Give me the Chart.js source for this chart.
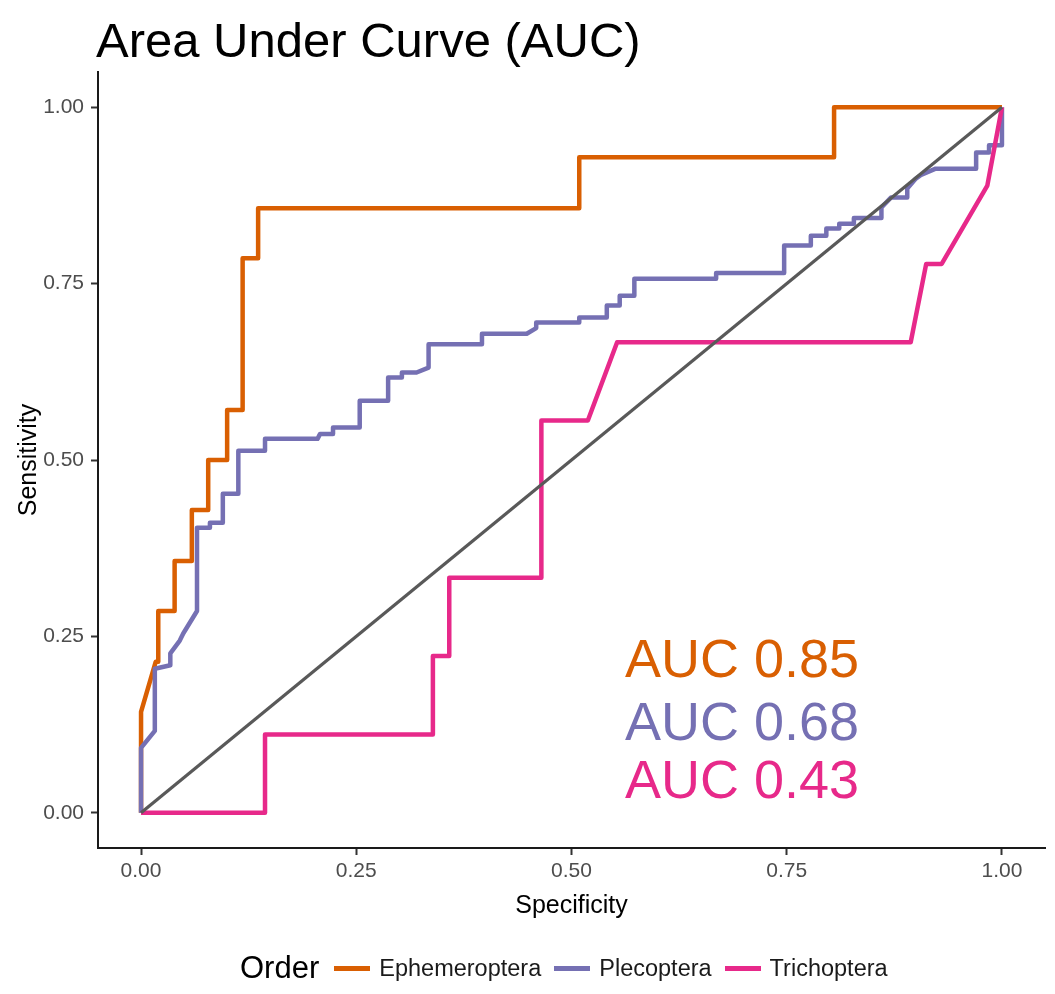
<!DOCTYPE html>
<html>
<head>
<meta charset="utf-8">
<script src="https://cdn.jsdelivr.net/npm/chart.js@4.4.1/dist/chart.umd.min.js"></script>
<style>
  body { margin: 0; background: #fff; }
  #wrap { position: relative; width: 1055px; height: 994px; font-family: "Liberation Sans", Arial, sans-serif; }
  #rocChart { position: absolute; left: 0; top: 0; }
  #title { position: absolute; left: 96px; top: 16px; font-size: 49px; line-height: 48px; color: #000; white-space: nowrap; }
  #legend { position: absolute; left: 240px; top: 948px; height: 40px; display: flex; align-items: center; white-space: nowrap; }
  #legend .lab { font-size: 31px; color: #000; margin-right: 15px; }
  #legend .key { width: 36px; height: 5px; margin-right: 9px; }
  #legend .txt { font-size: 23.5px; color: #1a1a1a; margin-right: 13px; }
</style>
</head>
<body>
<div id="wrap">
  <canvas id="rocChart" width="1055" height="994"></canvas>
  <div id="title">Area Under Curve (AUC)</div>
  <div id="legend"></div>
</div>
<script>
/* ---------------------------------------------------
    ROC curves per Order  [specificity, sensitivity]
---------------------------------------------------*/
const ephemeroptera = [
    [0, 0], [0, 0.143], [0.017, 0.214], [0.020, 0.214], [0.020, 0.286], [0.039, 0.286],
    [0.039, 0.357], [0.059, 0.357], [0.059, 0.429], [0.078, 0.429], [0.078, 0.500],
    [0.100, 0.500], [0.100, 0.571], [0.118, 0.571], [0.118, 0.786], [0.136, 0.786],
    [0.136, 0.857], [0.509, 0.857], [0.509, 0.929], [0.805, 0.929], [0.805, 1.0], [1.0, 1.0]
];

const plecoptera = [
    [0, 0], [0, 0.092], [0.016, 0.116], [0.016, 0.204], [0.034, 0.209], [0.034, 0.226],
    [0.045, 0.244], [0.049, 0.254], [0.065, 0.286], [0.065, 0.404], [0.080, 0.404],
    [0.080, 0.411], [0.095, 0.411], [0.095, 0.452], [0.113, 0.452], [0.113, 0.513],
    [0.144, 0.513], [0.144, 0.530], [0.205, 0.530], [0.208, 0.537], [0.223, 0.537],
    [0.223, 0.546], [0.254, 0.546], [0.254, 0.584], [0.287, 0.584], [0.287, 0.617],
    [0.303, 0.617], [0.303, 0.624], [0.320, 0.624], [0.334, 0.631], [0.334, 0.664],
    [0.396, 0.664], [0.396, 0.679], [0.448, 0.679], [0.459, 0.687], [0.459, 0.695],
    [0.509, 0.695], [0.509, 0.702], [0.541, 0.702], [0.541, 0.719], [0.556, 0.719],
    [0.556, 0.733], [0.573, 0.733], [0.573, 0.757], [0.668, 0.757], [0.668, 0.765],
    [0.747, 0.765], [0.747, 0.804], [0.778, 0.804], [0.778, 0.818], [0.796, 0.818],
    [0.796, 0.828], [0.811, 0.828], [0.811, 0.835], [0.828, 0.835], [0.828, 0.843],
    [0.860, 0.843], [0.860, 0.858], [0.871, 0.872], [0.890, 0.872], [0.890, 0.885],
    [0.900, 0.899], [0.906, 0.904], [0.923, 0.913], [0.970, 0.913], [0.970, 0.936],
    [0.985, 0.936], [0.985, 0.946], [1.0, 0.946], [1.0, 1.0]
];

const trichoptera = [
    [0, 0], [0.144, 0], [0.144, 0.111], [0.339, 0.111], [0.339, 0.222], [0.358, 0.222],
    [0.358, 0.333], [0.465, 0.333], [0.465, 0.556], [0.519, 0.556], [0.553, 0.667],
    [0.894, 0.667], [0.912, 0.778], [0.930, 0.778], [0.983, 0.889], [1.0, 1.0]
];

const chanceLine = [[0, 0], [1, 1]];

const orderNames = ["Ephemeroptera", "Plecoptera", "Trichoptera"];
const orderColors = ["#D95F02", "#7570B3", "#E7298A"];
const aucLabels = ["AUC 0.85", "AUC 0.68", "AUC 0.43"];
const axisTicks = [0, 0.25, 0.5, 0.75, 1];

const toPoints = arr => arr.map(p => ({ x: p[0], y: p[1] }));

/* ---------------------------------------------------
    Plugin: AUC text annotations (data coords)
---------------------------------------------------*/
const aucText = {
    id: 'aucText',
    afterDatasetsDraw(chart, args, opts) {
        const { ctx, scales } = chart;
        ctx.save();
        ctx.font = opts.size + 'px "Liberation Sans", Arial, sans-serif';
        ctx.textAlign = 'left';
        ctx.textBaseline = 'alphabetic';
        aucLabels.forEach((txt, i) => {
            ctx.fillStyle = orderColors[i];
            ctx.fillText(txt, scales.x.getPixelForValue(opts.x), scales.y.getPixelForValue(opts.y[i]));
        });
        ctx.restore();
    }
};

function axisOpts(titleText, isX) {
    return {
        type: 'linear',
        min: -0.05,
        max: 1.05,
        afterBuildTicks: s => { s.ticks = axisTicks.map(v => ({ value: v })); },
        afterFit: s => { if (isX) s.height = 146; else s.width = 98; },
        ticks: {
            callback: v => Number(v).toFixed(2),
            font: { family: '"Liberation Sans", Arial, sans-serif', size: 21 },
            color: '#4D4D4D',
            padding: isX ? 4 : 7,
            maxRotation: 0,
            autoSkip: false
        },
        grid: { drawOnChartArea: false, drawTicks: true, tickLength: 7, tickColor: '#333', tickWidth: 2 },
        border: { display: true, color: '#1a1a1a', width: 2 },
        title: {
            display: true,
            text: titleText,
            color: '#000',
            font: { family: '"Liberation Sans", Arial, sans-serif', size: 25 },
            padding: isX ? { top: 0, bottom: 73 } : { top: 14, bottom: 0 }
        }
    };
}

const ds = [ephemeroptera, plecoptera, trichoptera].map((d, i) => ({
    label: orderNames[i],
    data: toPoints(d),
    borderColor: orderColors[i],
    borderWidth: 4.5,
    showLine: true,
    pointRadius: 0,
    borderJoinStyle: 'round',
    order: 3 - i
}));

ds.push({
    label: 'chance',
    data: toPoints(chanceLine),
    borderColor: '#595959',
    borderWidth: 3.2,
    showLine: true,
    pointRadius: 0,
    order: 0
});

new Chart(document.getElementById('rocChart'), {
    type: 'scatter',
    data: { datasets: ds },
    options: {
        responsive: false,
        animation: false,
        events: [],
        layout: { padding: { top: 72, right: 10, left: 0, bottom: 0 } },
        plugins: {
            legend: { display: false },
            tooltip: { enabled: false },
            aucText: { x: 0.562, y: [0.192, 0.103, 0.021], size: 54 }
        },
        scales: {
            x: axisOpts('Specificity', true),
            y: axisOpts('Sensitivity', false)
        }
    },
    plugins: [aucText]
});

// HTML legend
const legend = document.getElementById('legend');
legend.innerHTML = '<span class="lab">Order</span>' + orderNames.map((n, i) =>
    `<span class="key" style="background:${orderColors[i]}"></span><span class="txt">${n}</span>`).join('');
</script>
</body>
</html>
